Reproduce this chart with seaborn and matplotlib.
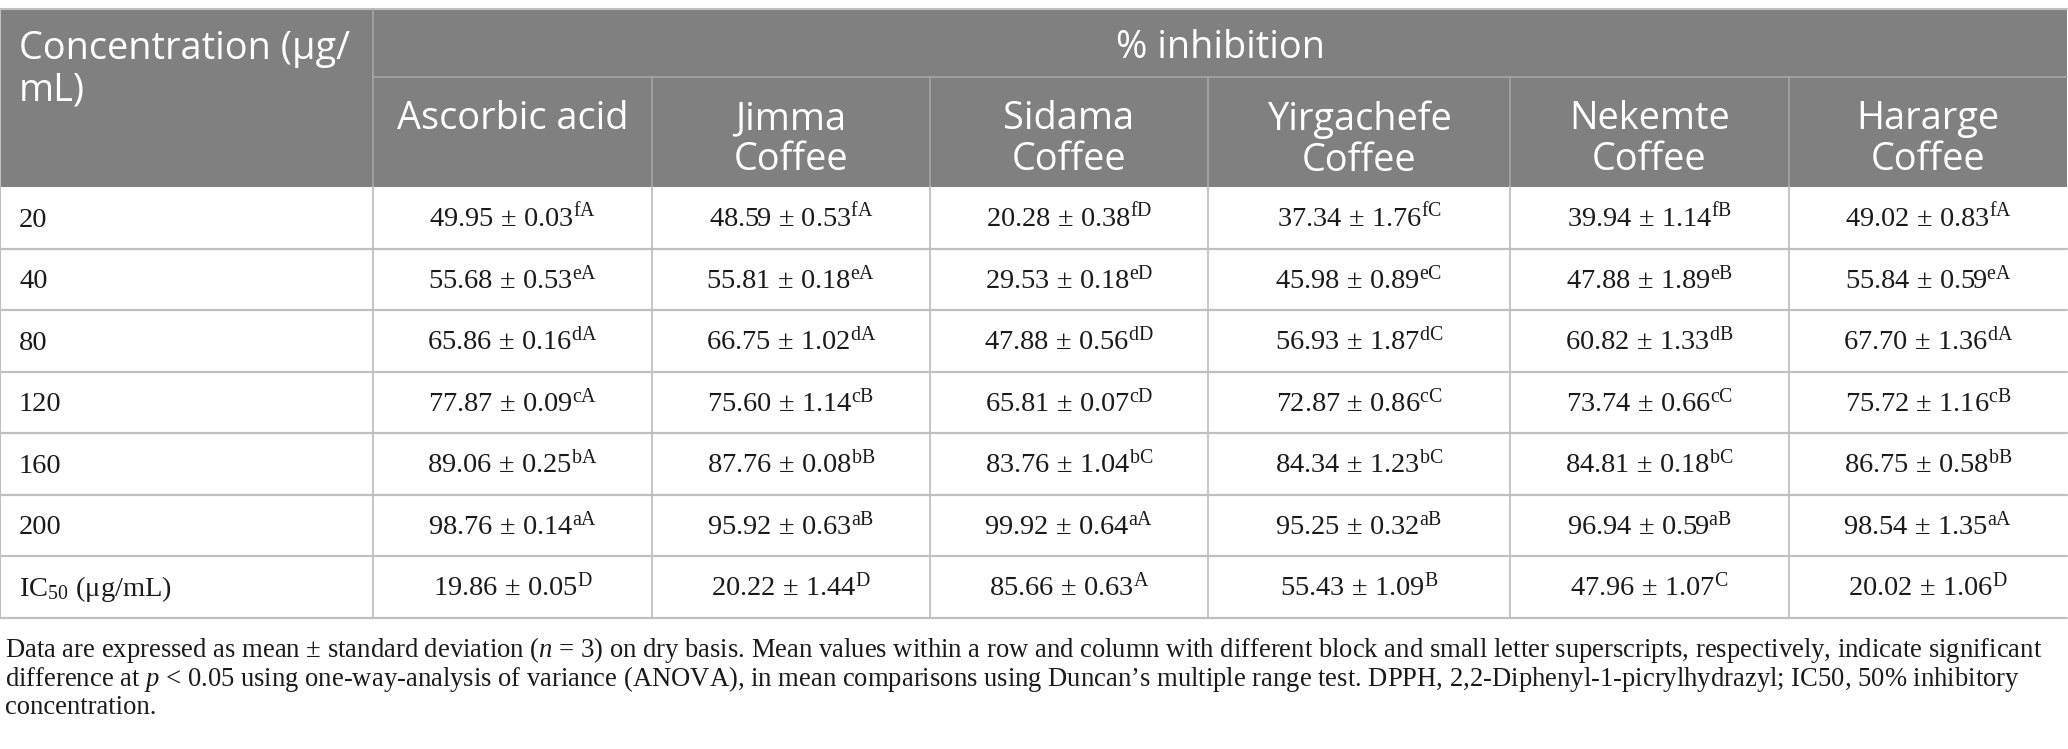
import matplotlib
matplotlib.use("Agg")
import matplotlib.pyplot as plt
from matplotlib.patches import Rectangle
import seaborn as sns

# ---------------- data ----------------
row_labels = ["20", "40", "80", "120", "160", "200", "IC$_{50}$ (μg/mL)"]
col_headers = ["Ascorbic acid", "Jimma\nCoffee", "Sidama\nCoffee",
               "Yirgachefe\nCoffee", "Nekemte\nCoffee", "Hararge\nCoffee"]
first_header = "Concentration (μg/\nmL)"
group_header = "% inhibition"

ascorbic_mean = [49.95, 55.68, 65.86, 77.87, 89.06, 98.76, 19.86]
ascorbic_sd = [0.03, 0.53, 0.16, 0.09, 0.25, 0.14, 0.05]
ascorbic_sup = ["fA", "eA", "dA", "cA", "bA", "aA", "D"]

jimma_mean = [48.59, 55.81, 66.75, 75.60, 87.76, 95.92, 20.22]
jimma_sd = [0.53, 0.18, 1.02, 1.14, 0.08, 0.63, 1.44]
jimma_sup = ["fA", "eA", "dA", "cB", "bB", "aB", "D"]

sidama_mean = [20.28, 29.53, 47.88, 65.81, 83.76, 99.92, 85.66]
sidama_sd = [0.38, 0.18, 0.56, 0.07, 1.04, 0.64, 0.63]
sidama_sup = ["fD", "eD", "dD", "cD", "bC", "aA", "A"]

yirga_mean = [37.34, 45.98, 56.93, 72.87, 84.34, 95.25, 55.43]
yirga_sd = [1.76, 0.89, 1.87, 0.86, 1.23, 0.32, 1.09]
yirga_sup = ["fC", "eC", "dC", "cC", "bC", "aB", "B"]

nekemte_mean = [39.94, 47.88, 60.82, 73.74, 84.81, 96.94, 47.96]
nekemte_sd = [1.14, 1.89, 1.33, 0.66, 0.18, 0.59, 1.07]
nekemte_sup = ["fB", "eB", "dB", "cC", "bC", "aB", "C"]

hararge_mean = [49.02, 55.84, 67.70, 75.72, 86.75, 98.54, 20.02]
hararge_sd = [0.83, 0.59, 1.36, 1.16, 0.58, 1.35, 1.06]
hararge_sup = ["fA", "eA", "dA", "cB", "bB", "aA", "D"]

footnote_lines = [
    "Data are expressed as mean ± standard deviation ($n$ = 3) on dry basis. Mean values within a row and column with different block and small letter superscripts, respectively, indicate significant",
    "difference at $p$ < 0.05 using one-way-analysis of variance (ANOVA), in mean comparisons using Duncan’s multiple range test. DPPH, 2,2-Diphenyl-1-picrylhydrazyl; IC50, 50% inhibitory",
    "concentration.",
]

series = [
    (ascorbic_mean, ascorbic_sd, ascorbic_sup),
    (jimma_mean, jimma_sd, jimma_sup),
    (sidama_mean, sidama_sd, sidama_sup),
    (yirga_mean, yirga_sd, yirga_sup),
    (nekemte_mean, nekemte_sd, nekemte_sup),
    (hararge_mean, hararge_sd, hararge_sup),
]

# ---------------- style ----------------
sns.set_theme(style="white")
plt.rcParams["font.family"] = ["Liberation Serif", "DejaVu Serif"]
plt.rcParams["mathtext.fontset"] = "custom"
plt.rcParams["mathtext.rm"] = "Liberation Serif"
plt.rcParams["mathtext.it"] = "Liberation Serif:italic"
plt.rcParams["mathtext.bf"] = "Liberation Serif:bold"

W, H = 2068, 749
DPI = 100
fig = plt.figure(figsize=(W / DPI, H / DPI), dpi=DPI)
ax = fig.add_axes([0, 0, 1, 1])
ax.set_xlim(0, W)
ax.set_ylim(H, 0)
ax.axis("off")

HEADER_BG = "#808080"
HEADER_LINE = "#a6a6a6"
GRID = "#c0c0c0"
TEXT = "#1a1a1a"

col_widths = [373, 279, 278, 278, 302, 279, 278]
edges = [0]
for w in col_widths:
    edges.append(edges[-1] + w)
right = edges[-1]

top = 9
hdr_mid = 77
hdr_bot = 187
row_h = 61.5
n_rows = len(row_labels)
row_edges = [hdr_bot + i * row_h for i in range(n_rows + 1)]
pad = 19

renderer = fig.canvas.get_renderer()


def fit_size(txt, family, target, start):
    t = ax.text(0, 0, txt, fontsize=start, family=family)
    wpx = t.get_window_extent(renderer).width
    t.remove()
    return start * target / wpx


hdr_family = ["Open Sans", "DejaVu Sans"]
hdr_fs = fit_size("Ascorbic acid", hdr_family, 230, 20)
body_fs = fit_size("49.95 ± 0.03", ["Liberation Serif"], 143, 17)
foot_fs = fit_size(footnote_lines[0], ["Liberation Serif"], 2035, 17)

# header background
ax.add_patch(Rectangle((0, top), right, hdr_bot - top, facecolor=HEADER_BG,
                       edgecolor="none", zorder=1))
# header lines
ax.plot([0, right], [top, top], color=GRID, lw=1.5, zorder=3)
ax.plot([edges[1], right], [hdr_mid, hdr_mid], color=HEADER_LINE, lw=1.2, zorder=3)
ax.plot([edges[1], edges[1]], [top, hdr_bot], color=HEADER_LINE, lw=1.2, zorder=3)
for x in edges[2:-1]:
    ax.plot([x, x], [hdr_mid, hdr_bot], color=HEADER_LINE, lw=1.2, zorder=3)

# body grid
for y in row_edges[1:]:
    ax.plot([0, right], [y, y], color=GRID, lw=1.6, zorder=3)
for x in edges[:-1]:
    ax.plot([x, x], [hdr_bot, row_edges[-1]], color=GRID, lw=1.3, zorder=3)
ax.plot([0, 0], [top, row_edges[-1]], color=GRID, lw=1.5, zorder=3)

# header text
ax.text(pad, 30, first_header, color="white", family=hdr_family,
        fontsize=hdr_fs, va="top", ha="left", linespacing=1.12, zorder=4)
ax.text((edges[1] + right) / 2, 48, group_header, color="white", family=hdr_family,
        fontsize=hdr_fs, va="center", ha="center", zorder=4)
for j, h in enumerate(col_headers):
    cx = (edges[j + 1] + edges[j + 2]) / 2
    ax.text(cx, 100, h, color="white", family=hdr_family, fontsize=hdr_fs,
            va="top", ha="center", linespacing=1.12, multialignment="center", zorder=4)

# body text
for i, lab in enumerate(row_labels):
    yb = (row_edges[i] + row_edges[i + 1]) / 2 + 9
    ax.text(pad, yb, lab, fontsize=body_fs, color=TEXT, va="baseline", ha="left", zorder=4)
    for j, (m, s, sup) in enumerate(series):
        cx = (edges[j + 1] + edges[j + 2]) / 2
        txt = f"{m[i]:.2f} ± {s[i]:.2f}$^{{\\mathrm{{{sup[i]}}}}}$"
        ax.text(cx, yb, txt, fontsize=body_fs, color=TEXT, va="baseline",
                ha="center", zorder=4)

# footnote
foot_base = [657, 685.5, 714]
for y, line in zip(foot_base, footnote_lines):
    ax.text(5, y, line, fontsize=foot_fs, color=TEXT, va="baseline", ha="left")

fig.savefig("out.png", dpi=DPI, facecolor="white")
